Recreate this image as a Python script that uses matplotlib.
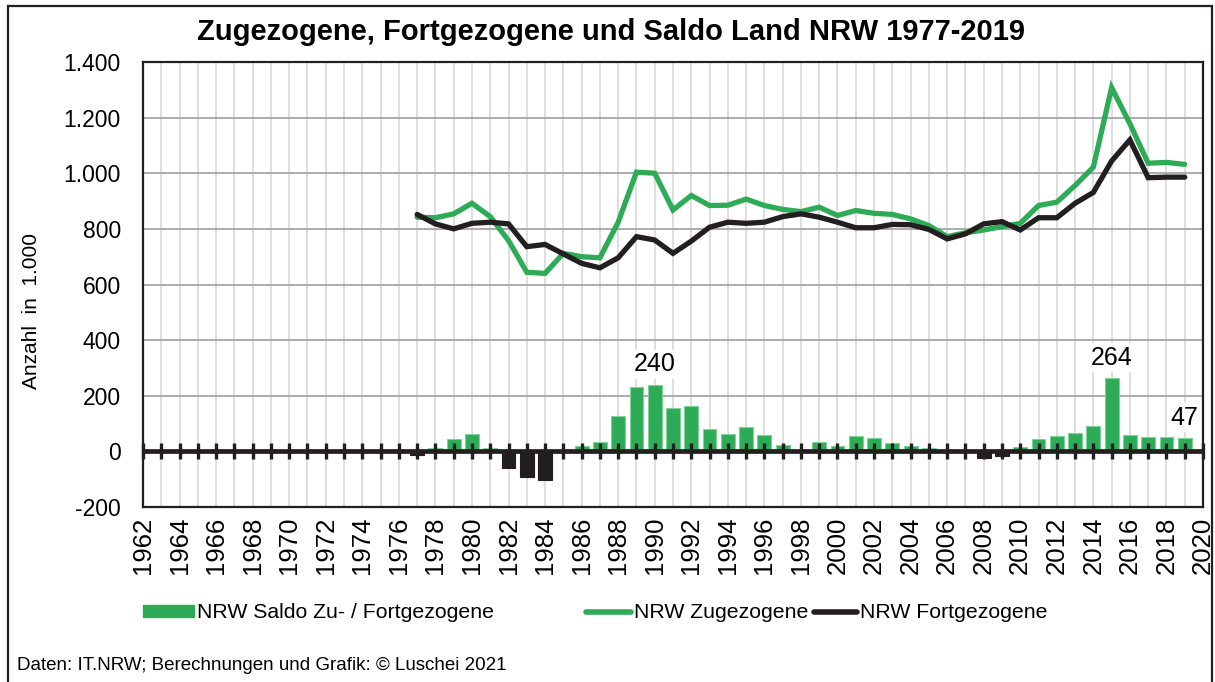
import matplotlib.pyplot as plt
import numpy as np
from matplotlib.patches import Rectangle, Patch
from matplotlib.lines import Line2D

plt.rcParams['font.family'] = ['Liberation Sans', 'DejaVu Sans']

years = list(range(1977, 2020))
zuzug = [842, 840, 854, 892, 844, 758, 644, 640, 712, 700, 696, 824, 1004, 1000,
         868, 920, 884, 885, 907, 884, 870, 862, 878, 848, 866, 856, 852, 836,
         812, 772, 786, 796, 808, 820, 884, 896, 956, 1022, 1308, 1178, 1036, 1039, 1032]
fortzug = [852, 818, 800, 820, 824, 818, 736, 744, 710, 676, 660, 696, 772, 760,
           712, 756, 806, 824, 820, 824, 844, 854, 842, 824, 804, 804, 816, 815,
           798, 764, 782, 818, 826, 796, 840, 840, 892, 931, 1044, 1120, 984, 986, 986]
saldo = [-13, 12, 43, 64, 12, -61, -91, -103, 2, 20, 34, 128, 232, 240, 155, 162,
         80, 62, 87, 59, 24, 6, 35, 20, 56, 47, 31, 19, 12, 6, 4, -24, -16, 17,
         43, 54, 65, 93, 264, 59, 51, 53, 47]
labelled = {1990: '240', 2015: '264', 2019: '47'}
all_years = list(range(1962, 2021))

green = '#2eab56'
dark = '#231f20'
W, H = 1215, 682

fig = plt.figure(figsize=(W / 100, H / 100), dpi=100)
ax = fig.add_axes([143 / W, 1 - 507 / H, (1203 - 143) / W, (507 - 62) / H])

# Saldo bars
cols = [green if v >= 0 else dark for v in saldo]
edges = ['#7fd39a' if v >= 0 else dark for v in saldo]
ax.bar(years, saldo, width=0.76, color=cols, edgecolor=edges, linewidth=0.8, zorder=2)

# zero line with crossing year ticks
ax.axhline(0, color=dark, lw=3.4, zorder=3)
ax.plot(all_years, [0] * len(all_years), ls='none', marker='|', ms=12, mew=2.4,
        color=dark, zorder=3, clip_on=False)

ax.plot(years, zuzug, color=green, lw=3.8, zorder=4, solid_capstyle='round', solid_joinstyle='miter')
ax.plot(years, fortzug, color=dark, lw=3.8, zorder=5, solid_capstyle='round', solid_joinstyle='miter')

for yr, txt in labelled.items():
    v = saldo[years.index(yr)]
    ax.annotate(txt, (yr, v), xytext=(0, 6), textcoords='offset points',
                ha='center', va='bottom', fontsize=18,
                bbox=dict(boxstyle='square,pad=0.1', fc='white', ec='none'), zorder=6)

ax.set_xlim(1962, 2020)
ax.set_ylim(-200, 1400)
ax.set_yticks(np.arange(-200, 1401, 200))
ax.set_yticklabels([f'{v:,}'.replace(',', '.') for v in range(-200, 1401, 200)], fontsize=16.5)
ax.set_xticks(range(1962, 2021, 2))
ax.set_xticklabels([str(y) for y in range(1962, 2021, 2)], rotation=90, fontsize=18.5)
ax.set_xticks(all_years, minor=True)
ax.tick_params(axis='both', which='both', length=0)
ax.tick_params(axis='y', pad=16)
ax.tick_params(axis='x', pad=7)

ax.grid(axis='x', which='both', color='#dcdcdc', lw=1.3, zorder=0)
ax.grid(axis='y', which='major', color='#a6a6a6', lw=1.3, zorder=0)
ax.set_axisbelow(True)
for s in ax.spines.values():
    s.set_color(dark)
    s.set_linewidth(1.6)

fig.text(611 / W, 1 - 32 / H, 'Zugezogene, Fortgezogene und Saldo Land NRW 1977-2019',
         ha='center', va='center', fontsize=21, fontweight='bold')
fig.text(32 / W, 1 - 311 / H, 'Anzahl  in  1.000', rotation=90, ha='center', va='center', fontsize=15)
fig.text(17 / W, 1 - 666 / H, 'Daten: IT.NRW; Berechnungen und Grafik: \u00a9 Luschei 2021',
         ha='left', va='center', fontsize=13.5)

items = [
    (Patch(facecolor=green, edgecolor=green), 'NRW Saldo Zu- / Fortgezogene', 143, 2.4),
    (Line2D([], [], color=green, lw=4, solid_capstyle='round'), 'NRW Zugezogene', 586, 2.1),
    (Line2D([], [], color=dark, lw=4, solid_capstyle='round'), 'NRW Fortgezogene', 814, 2.0),
]
for h, lab, x, hl in items:
    fig.legend([h], [lab], loc='center left', bbox_to_anchor=(x / W, 1 - 613 / H),
               frameon=False, fontsize=15.3, handlelength=hl, handleheight=0.5,
               handletextpad=0.15, borderpad=0, borderaxespad=0)

fig.add_artist(Rectangle((8 / W, -0.05), (1212 - 8) / W, 1.05 - 6 / H,
                         transform=fig.transFigure, fill=False, ec=dark, lw=1.6))

fig.savefig('out.png', dpi=100)
